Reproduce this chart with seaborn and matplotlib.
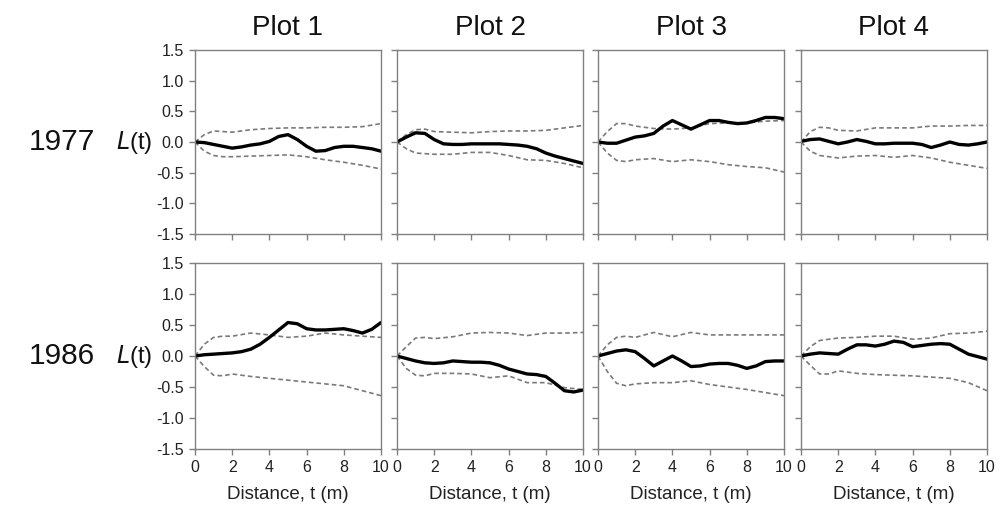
import numpy as np
import matplotlib.pyplot as plt
import seaborn as sns

# distances (m)
T_LINE = [0, 0.5, 1, 1.5, 2, 2.5, 3, 3.5, 4, 4.5, 5, 5.5, 6, 6.5, 7, 7.5, 8, 8.5, 9, 9.5, 10]
T_ENV = [0, 0.5, 1, 1.5, 2, 3, 4, 5, 6, 7, 8, 9, 10]

PLOTS = ['Plot 1', 'Plot 2', 'Plot 3', 'Plot 4']
YEARS = ['1977', '1986']

# observed L(t), 1977
obs_1977_p1 = [0, -0.01, -0.04, -0.07, -0.10, -0.08, -0.05, -0.03, 0.01, 0.09, 0.12, 0.04, -0.07, -0.15, -0.14, -0.09, -0.07, -0.07, -0.09, -0.11, -0.15]
obs_1977_p2 = [0, 0.08, 0.15, 0.14, 0.04, -0.03, -0.04, -0.04, -0.03, -0.03, -0.03, -0.03, -0.04, -0.05, -0.07, -0.11, -0.18, -0.23, -0.27, -0.31, -0.35]
obs_1977_p3 = [0, -0.02, -0.02, 0.03, 0.08, 0.10, 0.14, 0.26, 0.35, 0.28, 0.21, 0.28, 0.35, 0.35, 0.32, 0.30, 0.31, 0.35, 0.40, 0.40, 0.38]
obs_1977_p4 = [0.01, 0.04, 0.05, 0.01, -0.03, 0, 0.04, 0.01, -0.03, -0.03, -0.02, -0.02, -0.02, -0.04, -0.09, -0.05, 0, -0.04, -0.05, -0.03, 0]

# observed L(t), 1986
obs_1986_p1 = [0, 0.02, 0.03, 0.04, 0.05, 0.07, 0.11, 0.19, 0.30, 0.42, 0.54, 0.52, 0.44, 0.42, 0.42, 0.43, 0.44, 0.41, 0.37, 0.43, 0.54]
obs_1986_p2 = [0, -0.04, -0.08, -0.11, -0.12, -0.11, -0.08, -0.09, -0.10, -0.10, -0.11, -0.15, -0.21, -0.25, -0.29, -0.30, -0.33, -0.44, -0.56, -0.58, -0.55]
obs_1986_p3 = [0, 0.04, 0.08, 0.10, 0.07, -0.04, -0.16, -0.08, 0, -0.08, -0.17, -0.16, -0.13, -0.12, -0.12, -0.15, -0.20, -0.16, -0.09, -0.08, -0.08]
obs_1986_p4 = [0, 0.03, 0.05, 0.04, 0.03, 0.11, 0.18, 0.18, 0.16, 0.19, 0.24, 0.22, 0.15, 0.17, 0.19, 0.20, 0.19, 0.11, 0.03, -0.01, -0.05]

# simulation envelopes, 1977
up_1977_p1 = [0, 0.12, 0.18, 0.17, 0.16, 0.20, 0.22, 0.23, 0.23, 0.24, 0.24, 0.25, 0.30]
lo_1977_p1 = [0, -0.15, -0.22, -0.24, -0.24, -0.23, -0.22, -0.21, -0.24, -0.29, -0.33, -0.38, -0.44]
up_1977_p2 = [0, 0.12, 0.20, 0.21, 0.17, 0.16, 0.15, 0.17, 0.18, 0.18, 0.19, 0.23, 0.27]
lo_1977_p2 = [0, -0.11, -0.18, -0.19, -0.20, -0.20, -0.17, -0.17, -0.22, -0.29, -0.30, -0.35, -0.42]
up_1977_p3 = [0, 0.17, 0.30, 0.30, 0.26, 0.22, 0.21, 0.23, 0.30, 0.31, 0.31, 0.34, 0.35]
lo_1977_p3 = [0, -0.18, -0.30, -0.32, -0.29, -0.27, -0.32, -0.29, -0.32, -0.37, -0.40, -0.42, -0.49]
up_1977_p4 = [0, 0.17, 0.24, 0.23, 0.19, 0.18, 0.23, 0.23, 0.23, 0.26, 0.26, 0.27, 0.27]
lo_1977_p4 = [0, -0.15, -0.22, -0.24, -0.26, -0.23, -0.22, -0.25, -0.22, -0.26, -0.33, -0.38, -0.43]

# simulation envelopes, 1986
up_1986_p1 = [0, 0.19, 0.30, 0.32, 0.32, 0.37, 0.34, 0.30, 0.32, 0.37, 0.34, 0.32, 0.30]
lo_1986_p1 = [0, -0.17, -0.31, -0.32, -0.29, -0.33, -0.36, -0.39, -0.42, -0.45, -0.48, -0.56, -0.64]
up_1986_p2 = [0, 0.15, 0.29, 0.30, 0.28, 0.31, 0.37, 0.38, 0.37, 0.33, 0.37, 0.37, 0.38]
lo_1986_p2 = [0, -0.20, -0.31, -0.32, -0.28, -0.28, -0.29, -0.35, -0.32, -0.43, -0.43, -0.51, -0.54]
up_1986_p3 = [0, 0.18, 0.30, 0.32, 0.30, 0.38, 0.31, 0.38, 0.34, 0.34, 0.34, 0.34, 0.34]
lo_1986_p3 = [0, -0.25, -0.44, -0.48, -0.45, -0.43, -0.43, -0.40, -0.46, -0.50, -0.54, -0.59, -0.64]
up_1986_p4 = [0, 0.15, 0.25, 0.27, 0.29, 0.30, 0.32, 0.32, 0.27, 0.29, 0.36, 0.37, 0.40]
lo_1986_p4 = [0, -0.15, -0.29, -0.29, -0.24, -0.28, -0.30, -0.31, -0.32, -0.34, -0.36, -0.43, -0.56]

observed = [[obs_1977_p1, obs_1977_p2, obs_1977_p3, obs_1977_p4],
            [obs_1986_p1, obs_1986_p2, obs_1986_p3, obs_1986_p4]]
upper = [[up_1977_p1, up_1977_p2, up_1977_p3, up_1977_p4],
         [up_1986_p1, up_1986_p2, up_1986_p3, up_1986_p4]]
lower = [[lo_1977_p1, lo_1977_p2, lo_1977_p3, lo_1977_p4],
         [lo_1986_p1, lo_1986_p2, lo_1986_p3, lo_1986_p4]]

sns.set_style('ticks')
plt.rcParams['font.family'] = ['Liberation Sans', 'DejaVu Sans']

W, H = 999, 508
fig = plt.figure(figsize=(W / 100, H / 100), dpi=100)

lefts = [195, 397, 598, 801]
ax_w = 186
rows = [(50, 234), (263, 449)]
spine_col = '#808080'
env_style = dict(color='#7a7a7a', lw=1.2, linestyle=(0, (2.8, 1.8)))

for r, (top, bot) in enumerate(rows):
    for c, left in enumerate(lefts):
        ax = fig.add_axes([left / W, (H - bot) / H, ax_w / W, (bot - top) / H])
        sns.lineplot(x=T_ENV, y=upper[r][c], ax=ax, **env_style)
        sns.lineplot(x=T_ENV, y=lower[r][c], ax=ax, **env_style)
        sns.lineplot(x=T_LINE, y=observed[r][c], ax=ax, color='black',
                     lw=2.4, solid_joinstyle='round')
        ax.set_xlim(0, 10)
        ax.set_ylim(-1.5, 1.5)
        ax.set_xticks(np.arange(0, 11, 2))
        ax.set_yticks(np.arange(-1.5, 1.51, 0.5))
        for s in ax.spines.values():
            s.set_visible(True)
            s.set_color(spine_col)
            s.set_linewidth(1.0)
        ax.tick_params(direction='out', length=4, width=1, color=spine_col,
                       labelsize=11.5, labelcolor='#222222', pad=4)
        ax.set_xlabel('')
        ax.set_ylabel('')
        if c == 0:
            ax.set_yticklabels([f'{v:.1f}' for v in np.arange(-1.5, 1.51, 0.5)])
        else:
            ax.set_yticklabels([])
        if r == 1:
            ax.set_xticklabels([str(v) for v in range(0, 11, 2)])
            ax.set_xlabel('Distance, t (m)', fontsize=13.5, color='#222222', labelpad=8)
        else:
            ax.set_xticklabels([])
            ax.set_title(PLOTS[c], fontsize=20, pad=11, color='#111111')

    ymid = 1 - ((top + bot) / 2) / H
    fig.text(62 / W, ymid, YEARS[r], fontsize=21.5, ha='center', va='center', color='#111111')
    fig.text(134 / W, ymid, r'$L$(t)', fontsize=17, ha='center', va='center', color='#111111')

fig.savefig('out.png', dpi=100)
